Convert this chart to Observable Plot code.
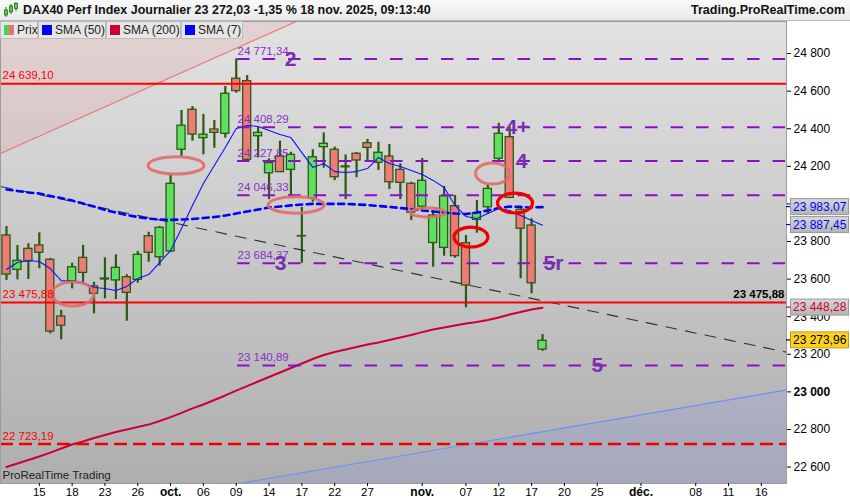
<!DOCTYPE html>
<html><head><meta charset="utf-8">
<script src="https://cdn.jsdelivr.net/npm/d3@7"></script>
<script src="https://cdn.jsdelivr.net/npm/@observablehq/plot@0.6"></script>
<style>
html,body{margin:0;padding:0;background:#fff;width:850px;height:500px;overflow:hidden;font-family:"Liberation Sans",Arial,sans-serif;}
#wrap{position:relative;width:850px;height:500px;}
#header{position:absolute;left:0;top:0;width:850px;height:21px;background:linear-gradient(#fafafa,#e9e9e9);border-bottom:1px solid #b9b9b9;box-sizing:border-box;}
#title{position:absolute;left:23px;top:3px;font-size:12.5px;font-weight:bold;color:#111;white-space:nowrap;}
#site{position:absolute;right:5px;top:3px;font-size:12.5px;font-weight:bold;color:#111;white-space:nowrap;}
#icon{position:absolute;left:3px;top:2px;}
#chart{position:absolute;left:0;top:20px;}
#legend{position:absolute;left:0;top:21px;height:18px;}
.tab{position:absolute;top:0;height:18px;background:#e6e6e6;border:1px solid #bdbdbd;box-sizing:border-box;font-size:12px;color:#222;line-height:15px;white-space:nowrap;}
.sq{position:absolute;top:3px;width:10px;height:10px;}
.tab span.t{position:absolute;top:1px;white-space:nowrap;}
</style></head>
<body><div id="wrap">
<div id="header">
<svg id="icon" width="16" height="16"><g stroke="#2b6a10" stroke-width="1"><line x1="3" y1="5" x2="3" y2="15"/><line x1="8" y1="2" x2="8" y2="12"/><line x1="13" y1="0" x2="13" y2="9"/></g><g fill="#4fd04f" stroke="#2b6a10" stroke-width="0.8"><rect x="1.5" y="8" width="3" height="5"/><rect x="6.5" y="4" width="3" height="6"/><rect x="11.5" y="1.5" width="3" height="5"/></g></svg>
<div id="title">DAX40 Perf Index Journalier 23 272,03 -1,35 % 18 nov. 2025, 09:13:40</div>
<div id="site">Trading.ProRealTime.com</div>
</div>
<div id="chart"></div>
<div id="legend">
<div class="tab" style="left:0;width:38px"><div class="sq" style="left:3px;width:5px;background:#4fcf4f"></div><div class="sq" style="left:8px;width:5px;background:#ef6f6f"></div><span class="t" style="left:16px">Prix</span></div>
<div class="tab" style="left:38px;width:68px"><div class="sq" style="left:3px;background:#0000ff"></div><span class="t" style="left:16px">SMA (50)</span></div>
<div class="tab" style="left:106px;width:75px"><div class="sq" style="left:3px;background:#cc0033"></div><span class="t" style="left:16px">SMA (200)</span></div>
<div class="tab" style="left:181px;width:62px"><div class="sq" style="left:3px;background:#0000ff"></div><span class="t" style="left:16px">SMA (7)</span></div>
</div>
</div>
<script>
// ---------- data ----------
const opens  = [23832,23649,23761,23779,23703,23401,23589,23713,23561,23598,23593,23610,23596,23828,23716,23747,24288,24501,24350,24396,24373,24666,24653,24360,24163,24252,24181,23827,24027,24302,24288,24195,24267,24323,24219,24252,24181,24107,23985,23792,23766,23988,23791,23915,23982,24240,24355,23969,23885,23225];
const highs  = [23880,23779,23788,23846,23710,23433,23685,23779,23583,23713,23729,23623,23747,23849,23880,24155,24497,24518,24476,24444,24625,24771,24683,24408,24240,24334,24275,23982,24288,24378,24302,24261,24273,24343,24328,24316,24213,24115,24242,23962,24093,24045,23832,24018,24103,24429,24408,23982,23921,23305];
const lows   = [23593,23596,23598,23655,23309,23277,23548,23583,23415,23495,23491,23376,23578,23690,23669,23741,24252,24334,24261,24296,24350,24589,24228,24245,24023,24167,24041,23684,24009,24190,24124,24023,24139,24231,24178,24077,24023,23912,23965,23663,23722,23711,23447,23844,23944,24222,24032,23602,23522,23216];
const closes = [23624,23697,23694,23740,23321,23352,23663,23633,23522,23603,23660,23527,23729,23740,23873,24107,24416,24369,24368,24378,24586,24600,24235,24378,24217,24169,24261,23829,24248,24320,24142,24199,24231,24298,24272,24115,24112,23954,24123,23938,24041,23722,23566,23951,24080,24373,24032,23868,23578,23272];
const sma7   = [23651,23688,23699,23694,23656,23592,23587,23582,23555,23550,23539,23561,23603,23624,23688,23752,23869,23992,24109,24204,24300,24401,24417,24412,24391,24369,24353,24273,24194,24215,24172,24167,24172,24188,24247,24215,24199,24178,24156,24125,24087,23992,23933,23922,23949,23976,23965,23938,23912,23887];
const sma50  = [24077,24069,24061,24055,24042,24031,24018,24002,23986,23968,23954,23941,23930,23922,23917,23915,23917,23920,23925,23930,23938,23949,23960,23970,23981,23986,23992,23997,24000,24000,24000,24000,23997,23994,23989,23984,23978,23973,23965,23960,23954,23949,23946,23954,23965,23978,23986,23984,23981,23983];
const sma200 = [22600,22619,22638,22656,22677,22699,22720,22736,22755,22771,22787,22800,22813,22826,22845,22866,22888,22912,22933,22957,22981,23007,23031,23055,23079,23103,23127,23151,23175,23196,23212,23225,23239,23252,23263,23276,23289,23303,23318,23332,23342,23353,23364,23372,23382,23396,23412,23425,23438,23448];

const purpleLevels = [24771.34,24408.29,24227.85,24046.33,23684.37,23140.89];
const redLevels = [24639.10,23475.88];
const redDashedLevels = [22723.19];
const waveLabels = ["2","3","4+","4","5r","5"];
const waveLevels = [24771.34,23684.37,24408.29,24227.85,23684.37,23140.89];
const waveSessions = [25.96,25.05,46.7,47.08,50.0,54.0];
const levelStartSession = 21.12;

const yTicks = [22600,22800,23000,23200,23400,23600,23800,24000,24200,24400,24600,24800];
const xTickDates = ["2025-09-15","2025-09-18","2025-09-23","2025-09-26","2025-10-01","2025-10-06","2025-10-09","2025-10-14","2025-10-17","2025-10-22","2025-10-27","2025-11-03","2025-11-07","2025-11-12","2025-11-17","2025-11-20","2025-11-25","2025-12-01","2025-12-08","2025-12-11","2025-12-16"];
const xTickLabels = ["15","18","23","26","oct.","06","09","14","17","22","27","nov.","07","12","17","20","25","déc.","08","11","16"];

// trend lines (session index, value)
const trendDashed = [{i:-0.55,v:24093},{i:71.3,v:23211}];
const resistanceDiag = [{i:-0.55,v:24268},{i:34,v:25166}];
const supportDiag = [{i:18,v:22480},{i:71.3,v:23010}];

// circled zones
const zoneSession = [6.12,15.54,26.51,38.57,44.47,42.50,46.53];
const zoneLevel   = [23518,24202,23992,23952,24159,23821,24002];
const zoneHalfW   = [1.92,2.56,2.56,1.6,1.55,1.55,1.6];
const zoneHalfH   = [64,46,44,24,56,53,53];
const zoneKind    = ["soft","soft","soft","soft","soft","strong","strong"];

const axisBoxes = [
  {v:23983.07, color:"#0000ff", fill:"#c6c6c6", border:"#989898"},
  {v:23887.45, color:"#0000ff", fill:"#c6c6c6", border:"#989898"},
  {v:23448.28, color:"#cc0033", fill:"#c6c6c6", border:"#989898"},
  {v:23273.96, color:"#000000", fill:"#ffd21a", border:"#b89a30"}
];

// ---------- helpers ----------
const sessions = d3.utcDay.range(new Date(Date.UTC(2025,8,10)), new Date(Date.UTC(2025,11,24))).filter(d => d.getUTCDay() % 6 !== 0);
const iso = d => d.toISOString().slice(0,10);
const sessionIndex = s => sessions.findIndex(d => iso(d) === s);
const loc = d3.formatLocale({decimal:",", thousands:" ", grouping:[3], currency:["",""]});
const f2 = loc.format(",.2f");
const f0 = loc.format(",.0f");

const candles = opens.map((o,k) => ({i:k, date:sessions[k], open:o, high:highs[k], low:lows[k], close:closes[k]}));
const smaRows = key => ({sma7, sma50, sma200})[key].map((v,k) => ({i:k, v}));
const xTicks = xTickDates.map(sessionIndex);
const tickLabel = new Map(xTicks.map((t,k) => [t, xTickLabels[k]]));
const monthTicks = xTicks.filter((t,k) => /\./.test(xTickLabels[k]));
const dayTicks = xTicks.filter((t,k) => !/\./.test(xTickLabels[k]));
const zones = zoneSession.map((s,k) => ({i:s, v:zoneLevel[k], di:zoneHalfW[k], dv:zoneHalfH[k], kind:zoneKind[k]}));
const waves = waveLabels.map((t,k) => ({t, i:waveSessions[k], v:waveLevels[k]}));

const NS = "http://www.w3.org/2000/svg";
const el = (name, attrs) => { const e = document.createElementNS(NS, name); for (const k in attrs) e.setAttribute(k, attrs[k]); return e; };

function background(index, scales, values, dim) {
  const g = el("g", {});
  const defs = el("defs", {});
  const lg = el("linearGradient", {id:"bggrad", x1:0, y1:0, x2:0, y2:1});
  lg.appendChild(el("stop", {offset:"0", "stop-color":"#e2e2e2"}));
  lg.appendChild(el("stop", {offset:"1", "stop-color":"#aeaeae"}));
  const bg = el("linearGradient", {id:"boxgrad", x1:0, y1:0, x2:0, y2:1});
  bg.appendChild(el("stop", {offset:"0", "stop-color":"#d8d8d8"}));
  bg.appendChild(el("stop", {offset:"1", "stop-color":"#b4b4b4"}));
  defs.appendChild(lg); defs.appendChild(bg); g.appendChild(defs);
  g.appendChild(el("rect", {x:dim.marginLeft, y:dim.marginTop, width:dim.width-dim.marginLeft-dim.marginRight, height:dim.height-dim.marginTop-dim.marginBottom, fill:"url(#bggrad)"}));
  return g;
}
function ellipses(index, scales) {
  const g = el("g", {fill:"none"});
  for (const z of zones) {
    const cx = scales.x(z.i), cy = scales.y(z.v);
    const rx = Math.abs(scales.x(z.i + z.di) - cx), ry = Math.abs(scales.y(z.v + z.dv) - cy);
    g.appendChild(el("ellipse", {cx, cy, rx, ry, stroke: z.kind === "strong" ? "#ee0000" : "#e06a6a", "stroke-width": z.kind === "strong" ? 3.2 : 3, "stroke-opacity": z.kind === "strong" ? 1 : 0.9}));
  }
  return g;
}
function valueBoxes(index, scales, values, dim) {
  const g = el("g", {"text-anchor":"start"});
  const x0 = dim.width - dim.marginRight;
  for (const b of axisBoxes) {
    const y = scales.y(b.v);
    g.appendChild(el("line", {x1:x0, x2:x0+4, y1:y, y2:y, stroke:b.color, "stroke-width":1.2}));
    g.appendChild(el("rect", {x:x0+4.5, y:y-8, width:58, height:16, fill: b.fill === "#c6c6c6" ? "url(#boxgrad)" : b.fill, stroke:b.border, "stroke-width":1}));
    const t = el("text", {x:x0+7, y:y, "text-anchor":"start", "dominant-baseline":"central", fill:b.color, "font-size":"12px", "font-family":"Liberation Sans, Arial, sans-serif"});
    t.textContent = f2(b.v);
    g.appendChild(t);
  }
  return g;
}

const green = "#5fe05f", red = "#f07a76", edge = "#2a5a14";
const chart = Plot.plot({
  width: 850, height: 480,
  marginLeft: 0, marginRight: 64, marginTop: 1, marginBottom: 17,
  x: {domain: [-0.548, 71.30], axis: null},
  y: {domain: [22512.6, 24970.4], axis: null},
  style: {background: "transparent", fontFamily: "Liberation Sans, Arial, sans-serif", fontSize: "11.5px", overflow: "visible", color: "#000"},
  marks: [
    background,
    Plot.areaY(resistanceDiag, {x:"i", y1:"v", y2:26000, fill:"#e46a6a", fillOpacity:0.13, clip:true}),
    Plot.line(resistanceDiag, {x:"i", y:"v", stroke:"#ea7474", strokeWidth:1.2, clip:true}),
    Plot.areaY(supportDiag, {x:"i", y1:22000, y2:"v", fill:"#7a8cff", fillOpacity:0.17, clip:true}),
    Plot.line(supportDiag, {x:"i", y:"v", stroke:"#6f8ff5", strokeWidth:1.2, clip:true}),
    Plot.ruleX(candles, {x:"i", y1:"low", y2:"high", stroke:edge, strokeWidth:2.2}),
    Plot.rect(candles, {x1: d => d.i - 0.37, x2: d => d.i + 0.37, y1:"open", y2:"close", fill: d => d.close >= d.open ? green : red, stroke:edge, strokeWidth:1.3}),
    Plot.line(trendDashed, {x:"i", y:"v", stroke:"#333", strokeWidth:1.1, strokeDasharray:"11,9", clip:true}),
    Plot.line(smaRows("sma200"), {x:"i", y:"v", stroke:"#cc0033", strokeWidth:2}),
    Plot.line(smaRows("sma50"), {x:"i", y:"v", stroke:"#0000ff", strokeWidth:2.6, strokeDasharray:"6,4.5"}),
    Plot.line(smaRows("sma7"), {x:"i", y:"v", stroke:"#1010ff", strokeWidth:1.1}),
    Plot.ruleY(purpleLevels, {y: d => d, x1: levelStartSession, x2: 71.30, stroke:"#8a10c8", strokeWidth:2, strokeDasharray:"12.5,13"}),
    Plot.ruleY(redLevels, {y: d => d, stroke:"#ff0000", strokeWidth:2}),
    Plot.ruleY(redDashedLevels, {y: d => d, stroke:"#ee0000", strokeWidth:2.5, strokeDasharray:"13,6"}),
    ellipses,
    Plot.text(purpleLevels, {x: levelStartSession, y: d => d, text: d => f2(d), textAnchor:"start", dy:-8, fill:"#8a30c8", fontSize:11.5}),
    Plot.text(redLevels.concat(redDashedLevels), {y: d => d, frameAnchor:"left", dx:2, dy:-8, text: d => f2(d), textAnchor:"start", fill:"#ff0000", fontSize:11.5}),
    Plot.text([redLevels[1]], {y: d => d, frameAnchor:"right", dx:-2, dy:-8, text: d => f2(d), textAnchor:"end", fill:"#000", fontWeight:"bold", fontSize:11.5}),
    Plot.text(waves, {x:"i", y:"v", text:"t", fill:"#7a2cb4", fontWeight:"bold", fontSize:21, textAnchor:"middle", lineAnchor:"middle"}),
    Plot.text(["ProRealTime Trading"], {frameAnchor:"bottom-left", dx:2, dy:-5, text: d => d, textAnchor:"start", fill:"#222", fontSize:11.5}),
    Plot.frame({stroke:"#9c9c9c", strokeWidth:1}),
    Plot.axisY({anchor:"right", ticks: yTicks.filter(t => t !== 23000), tickFormat: f0, tickSize:4, tickPadding:3, label:null, fontSize:12}),
    Plot.axisY({anchor:"right", ticks: [23000], tickFormat: f0, tickSize:4, tickPadding:3, label:null, fontSize:12, fontWeight:"bold"}),
    Plot.axisX({anchor:"bottom", ticks: dayTicks, tickFormat: t => tickLabel.get(t), tickSize:3, tickPadding:1, label:null, fontSize:11.5}),
    Plot.axisX({anchor:"bottom", ticks: monthTicks, tickFormat: t => tickLabel.get(t), tickSize:3, tickPadding:1, label:null, fontSize:12, fontWeight:"bold"}),
    valueBoxes
  ]
});
document.getElementById("chart").appendChild(chart);
</script>
</body></html>
